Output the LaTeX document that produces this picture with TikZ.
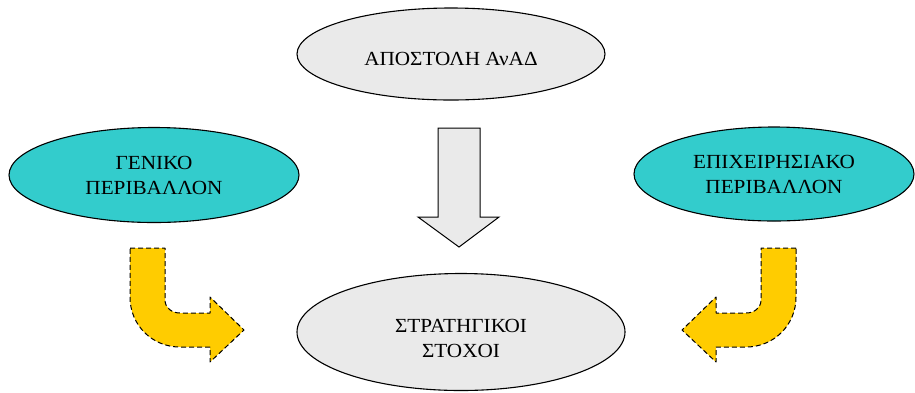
\documentclass[tikz,border=0pt]{standalone}
\usepackage{fontspec}
\setmainfont{Liberation Serif}[FakeStretch=1.06]
\usepackage{xcolor}
\usetikzlibrary{shapes.geometric}
\definecolor{tealfill}{RGB}{51,204,204}
\definecolor{grayfill}{RGB}{234,234,234}
\definecolor{yellowfill}{RGB}{255,204,0}

\begin{document}
\begin{tikzpicture}[x=1pt, y=-1pt,
  oval/.style={ellipse, draw=black, line width=1.1pt, inner sep=0pt, align=center, font=\fontsize{20}{25}\selectfont},
  label text/.style={align=center, inner sep=0pt, font=\fontsize{20}{25}\selectfont},
  bentarrow/.style={draw=black, fill=yellowfill, line width=1pt, dash pattern=on 5pt off 3pt, line join=round}]
  \useasboundingbox (0,0) rectangle (915,392);
  \node[oval, fill=grayfill, minimum width=308pt, minimum height=92pt] (mission) at (451,54) {};
  \node[label text] (missiontext) at ([yshift=-5pt]mission.center) {ΑΠΟΣΤΟΛΗ ΑνΑΔ};
  \node[oval, fill=tealfill, minimum width=290pt, minimum height=95pt] (general) at (154,175) {ΓΕΝΙΚΟ\\ΠΕΡΙΒΑΛΛΟΝ};
  \node[oval, fill=tealfill, minimum width=280pt, minimum height=94pt] (business) at (774,174) {ΕΠΙΧΕΙΡΗΣΙΑΚΟ\\ΠΕΡΙΒΑΛΛΟΝ};
  \node[oval, fill=grayfill, minimum width=328pt, minimum height=117pt] (goals) at (461,332) {};
  \node[label text] (goalstext) at ([yshift=-6pt]goals.center) {ΣΤΡΑΤΗΓΙΚΟΙ\\ΣΤΟΧΟΙ};
  % big down arrow
  \draw[fill=grayfill, line width=1pt, line join=miter] (438,128) -- (480,128) -- (480,217) -- (499,217) -- (459,247) -- (418,217) -- (438,217) -- cycle;
  % bent arrows
  \draw[bentarrow] (130,248) -- (165,248) -- (165,300) .. controls (165,308) and (172,313) .. (180,313) -- (210,313) -- (210,297) -- (244,330) -- (210,362) -- (210,347) -- (180,347) .. controls (152,347) and (130,325) .. (130,297) -- cycle;
  \draw[bentarrow] (796,248) -- (761,248) -- (761,300) .. controls (761,308) and (754,313) .. (746,313) -- (716,313) -- (716,297) -- (682,330) -- (716,362) -- (716,347) -- (746,347) .. controls (774,347) and (796,325) .. (796,297) -- cycle;
\end{tikzpicture}
\end{document}
